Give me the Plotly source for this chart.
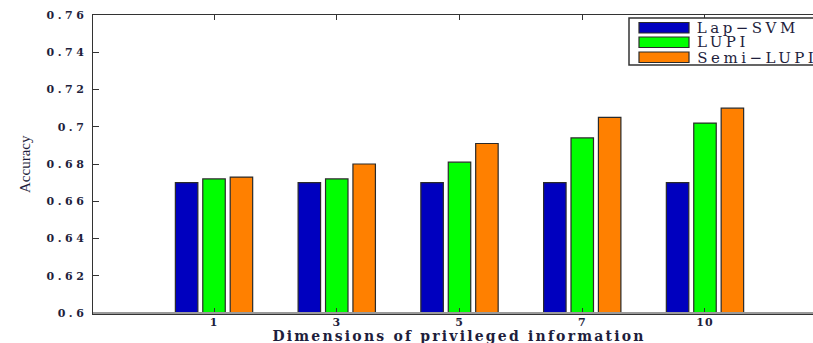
import json
import plotly.graph_objects as go

categories = ["1", "3", "5", "7", "10"]
series_names = ["Lap\u2212SVM", "LUPI", "Semi\u2212LUPI"]
lap_svm = [0.670, 0.670, 0.670, 0.670, 0.670]
lupi = [0.672, 0.672, 0.681, 0.694, 0.702]
semi_lupi = [0.673, 0.680, 0.691, 0.705, 0.710]
y_ticks = [0.6, 0.62, 0.64, 0.66, 0.68, 0.7, 0.72, 0.74, 0.76]
y_tick_labels = ["0.6", "0.62", "0.64", "0.66", "0.68", "0.7", "0.72", "0.74", "0.76"]
x_title = "Dimensions of privileged information"
y_title = "Accuracy"

colors = ["#0000BF", "#00FF00", "#FF8000"]
values = [lap_svm, lupi, semi_lupi]
x_pos = list(range(1, len(categories) + 1))

W, H = 813, 343
ML, MR, MT, MB = 93, 0, 15, 30
PW = W - ML - MR
PH = H - MT - MB
TXT = "#1e1e3c"

def px_x(px):
    return (px - ML) / PW

def px_y(py):
    return (H - MB - py) / PH

fig = go.Figure()
for name, vals, col in zip(series_names, values, colors):
    fig.add_trace(go.Bar(
        x=x_pos, y=vals, name=name,
        marker=dict(color=col, line=dict(color="#2a2a2a", width=1.2)),
        showlegend=False, hoverinfo="skip",
    ))

tick_font = dict(family="DejaVu Serif", size=11, color=TXT, weight="bold")

fig.update_layout(
    width=W, height=H,
    margin=dict(l=ML, r=MR, t=MT, b=MB, pad=0),
    plot_bgcolor="white", paper_bgcolor="white",
    barmode="group", bargap=0.33, bargroupgap=0.18,
    xaxis=dict(
        range=[0.014, 5.88], tickvals=x_pos, ticktext=categories,
        showline=True, linecolor="#333333", linewidth=1.5, mirror="ticks",
        ticks="inside", ticklen=5, tickcolor="#333333",
        showgrid=False, zeroline=False, tickfont=tick_font,
        ticklabelstandoff=-2,
    ),
    yaxis=dict(
        range=[0.6, 0.76], tickvals=y_ticks, ticktext=y_tick_labels,
        showline=True, linecolor="#333333", linewidth=1.5,
        ticks="inside", ticklen=6, tickcolor="#333333",
        showgrid=False, zeroline=False, tickfont=tick_font,
        ticklabelstandoff=2,
    ),
)

# bottom axis line drawn in gray as in the original
fig.add_shape(type="line", xref="paper", yref="paper", x0=0, x1=1, y0=0, y1=0,
              line=dict(color="#9a9a9a", width=2), layer="above")

spacing = {}
# axis titles
fig.add_annotation(text=x_title, xref="paper", yref="paper",
                   x=px_x(459), y=px_y(336), xanchor="center", yanchor="middle",
                   showarrow=False,
                   font=dict(family="DejaVu Serif", size=14, color=TXT, weight="bold"))
spacing[len(fig.layout.annotations) - 1] = 2.2
fig.add_annotation(text=y_title, xref="paper", yref="paper",
                   x=px_x(25), y=px_y(164), xanchor="center", yanchor="middle", textangle=-90,
                   showarrow=False, font=dict(family="Liberation Serif", size=15, color=TXT))

# legend box (MATLAB style, wide swatches)
fig.add_shape(type="rect", xref="paper", yref="paper",
              x0=px_x(629), x1=px_x(830), y0=px_y(65), y1=px_y(18),
              fillcolor="white", line=dict(color="#333333", width=1.5), layer="above")
row_tops = [22.5, 37, 52]
leg_sp = 3.5
for i, (name, col) in enumerate(zip(series_names, colors)):
    top = row_tops[i]
    fig.add_shape(type="rect", xref="paper", yref="paper",
                  x0=px_x(639), x1=px_x(689), y0=px_y(top + 10.5), y1=px_y(top),
                  fillcolor=col, line=dict(color="#2a2a2a", width=1.2), layer="above")
    fig.add_annotation(text=name, xref="paper", yref="paper",
                       x=px_x(695 + 0.5 * leg_sp * len(name)), y=px_y(top + 5.5),
                       xanchor="left", yanchor="middle",
                       showarrow=False,
                       font=dict(family="DejaVu Serif", size=15, color=TXT))
    spacing[len(fig.layout.annotations) - 1] = leg_sp

post = """
document.body.style.margin='0';
document.body.style.overflow='hidden';
var SP = %s;
function applySpacing(){
  document.querySelectorAll('.xtick text').forEach(function(t){t.style.letterSpacing='1px';});
  document.querySelectorAll('.ytick text').forEach(function(t){t.style.letterSpacing='3.5px';});
  Object.keys(SP).forEach(function(k){
    document.querySelectorAll('g.annotation[data-index="'+k+'"] text').forEach(function(t){t.style.letterSpacing=SP[k]+'px';});
  });
}
applySpacing();
setTimeout(applySpacing, 50);
var gd=document.getElementById('{plot_id}');
if(gd && gd.on){gd.on('plotly_afterplot', applySpacing);}
""" % json.dumps({str(k): v for k, v in spacing.items()})

fig.write_html("out.html", config={"displayModeBar": False, "staticPlot": True}, post_script=post)
